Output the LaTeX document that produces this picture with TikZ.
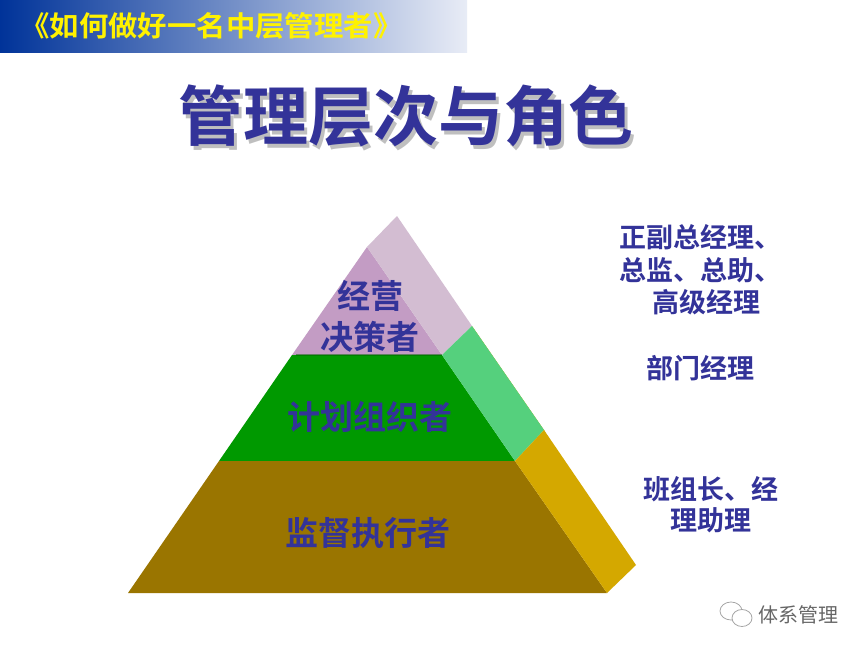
\documentclass[tikz,border=0pt]{standalone}
\usepackage{fontspec}
\newfontfamily\cjk{Noto Sans CJK SC}
\newfontfamily\cjkb{Noto Sans CJK SC Bold}
\begin{document}
\begin{tikzpicture}[x=1pt,y=-1pt,
  lab/.style={font=\cjkb\fontsize{33}{38}\selectfont, text=lbl, inner sep=0pt},
  rlab/.style={font=\cjkb\fontsize{27}{32}\selectfont, text=lbl, inner sep=0pt}]
\definecolor{lbl}{HTML}{333399}
\definecolor{topf}{HTML}{C39CC4}\definecolor{tops}{HTML}{D3BDD2}
\definecolor{midf}{HTML}{009900}\definecolor{mids}{HTML}{55D07D}
\definecolor{botf}{HTML}{9A7500}\definecolor{bots}{HTML}{D4A800}
\useasboundingbox (0,0) rectangle (868,653);
\fill[white] (0,0) rectangle (868,653);
\shade[left color={rgb,255:red,0;green,51;blue,153}, right color={rgb,255:red,232;green,236;blue,246}] (0,0) rectangle (467,52);
\node[font=\cjkb\fontsize{28}{30}\selectfont, text=yellow, anchor=west, inner sep=0pt, xscale=1.05] (hdr) at (20,26) {《如何做好一名中层管理者》};
\fill[gray!60] (0,0) rectangle (0,0);
\node[font=\cjkb\fontsize{65}{72}\selectfont, text=gray!55, inner sep=0pt, opacity=0.9] at (409,120) {管理层次与角色};
\node[font=\cjkb\fontsize{65}{72}\selectfont, text=lbl, inner sep=0pt] (title) at (406,116) {管理层次与角色};
% pyramid
\fill[bots] (472,326) -- (544,430) -- (546,434) -- (474,330) -- cycle;
\fill[topf] (367,247) -- (442,355) -- (292,355) -- cycle;
\fill[tops] (397,216) -- (472,326) -- (442,355) -- (367,247) -- cycle;
\fill[midf] (292,355) -- (442,355) -- (515,461) -- (219,461) -- cycle;
\fill[mids] (442,355) -- (472,326) -- (544,430) -- (515,461) -- cycle;
\fill[botf] (219,461) -- (515,461) -- (607,593) -- (128,593) -- cycle;
\fill[bots] (515,461) -- (544,430) -- (636,565) -- (607,593) -- cycle;
\draw[green!40!black, line width=1.5pt, opacity=0.5] (296,355) -- (442,355);
\node[lab] (l1) at (370,296) {经营};
\node[lab] (l2) at (370,337) {决策者};
\node[lab] (l3) at (370,417) {计划组织者};
\node[lab] (l4) at (368,533) {监督执行者};
\node[rlab] (r1) at (700,237) {正副总经理、};
\node[rlab] (r2) at (700,270) {总监、总助、};
\node[rlab] (r3) at (706,302) {高级经理};
\node[rlab] (r4) at (700,368) {部门经理};
\node[rlab] (r5) at (711,489) {班组长、经};
\node[rlab] (r6) at (711,520) {理助理};
% watermark
\draw[gray!70, line width=0.8pt] (731,611) ellipse (11 and 9);
\fill[white] (742,618) ellipse (10 and 8.5);
\draw[gray!70, line width=0.8pt] (742,618) ellipse (10 and 8.5);
\node[font=\cjk\fontsize{20}{24}\selectfont, text=gray!80!black, anchor=west, inner sep=0pt] (wm) at (758,615) {体系管理};
\end{tikzpicture}
\end{document}
